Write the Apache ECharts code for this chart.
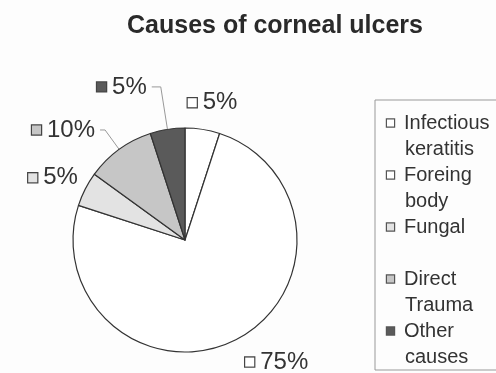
<!DOCTYPE html>
<html>
<head>
<meta charset="utf-8">
<script src="https://cdn.jsdelivr.net/npm/echarts@6/dist/echarts.min.js"></script>
<style>html,body{margin:0;padding:0;background:#fdfdfd}#chart{width:496px;height:373px}</style>
</head>
<body>
<div id="chart"></div>
<script>
// Data (slices listed in the order they appear clockwise from 12 o'clock)
const categories = ['Foreing body', 'Infectious keratitis', 'Fungal', 'Direct Trauma', 'Other causes'];
const values = [5, 75, 5, 10, 5];
// Legend order as shown in the reference
const legendOrder = ['Infectious keratitis', 'Foreing body', 'Fungal', 'Direct Trauma', 'Other causes'];
const chartTitle = 'Causes of corneal ulcers';

// Styles
const sliceColors = ['#ffffff', '#ffffff', '#e3e3e3', '#c6c6c6', '#5a5a5a'];
// label line placement per slice: [length, length2, showLine]
const labelPlacement = [[27, -24, false], [25, -7, false], [25, -20, false], [24, 5, true], [43, 9, true]];

const rich = { t: { fontSize: 24, color: '#333', fontFamily: 'Liberation Sans', padding: [0, 0, 0, 6] } };
const legendRich = {
  t: { fontSize: 20, color: '#333', fontFamily: 'Liberation Sans', lineHeight: 26 },
  g: { width: 10, height: 8 },
  s: { width: 18, height: 8, lineHeight: 26 }
};
categories.forEach((c, i) => {
  rich['c' + i] = { width: 9, height: 9, backgroundColor: sliceColors[i], borderColor: '#444', borderWidth: 1.2 };
  legendRich['b' + i] = { width: 7, height: 7, backgroundColor: sliceColors[i], borderColor: '#555', borderWidth: 1.2 };
});

const pieData = categories.map((name, i) => ({
  name: name,
  value: values[i],
  itemStyle: { color: sliceColors[i] },
  label: { formatter: '{c' + i + '|}{t|' + values[i] + '%}' },
  labelLine: { show: labelPlacement[i][2], length: labelPlacement[i][0], length2: labelPlacement[i][1] }
}));

const chart = echarts.init(document.getElementById('chart'));
chart.setOption({
  animation: false,
  backgroundColor: '#fdfdfd',
  title: {
    text: chartTitle,
    left: 127, top: 14, padding: 0,
    textStyle: { fontSize: 25, fontWeight: 'bold', color: '#2a2a2a', fontFamily: 'Liberation Sans' }
  },
  legend: {
    orient: 'vertical',
    left: 375, top: 100, height: 320,
    padding: [10, 40, 0, 7],
    borderColor: '#999', borderWidth: 1,
    itemGap: 0, itemWidth: 0, itemHeight: 0, icon: 'none',
    selectedMode: false,
    data: legendOrder,
    formatter: function (name) {
      const i = categories.indexOf(name);
      const sp = name.indexOf(' ');
      const first = sp < 0 ? name : name.slice(0, sp);
      const second = sp < 0 ? '' : name.slice(sp + 1);
      return '{b' + i + '|}{g|}{t|' + first + '}\n{s|}' + (second ? '{t|' + second + '}' : '');
    },
    textStyle: { rich: legendRich, fontSize: 20, lineHeight: 26 }
  },
  series: [{
    type: 'pie',
    center: [185, 240],
    radius: 112,
    startAngle: 90,
    clockwise: true,
    avoidLabelOverlap: false,
    itemStyle: { borderColor: '#333', borderWidth: 1.2 },
    label: { show: true, position: 'outside', rich: rich },
    labelLine: { lineStyle: { color: '#999', width: 1 } },
    emphasis: { disabled: true },
    data: pieData
  }]
});
</script>
</body>
</html>
